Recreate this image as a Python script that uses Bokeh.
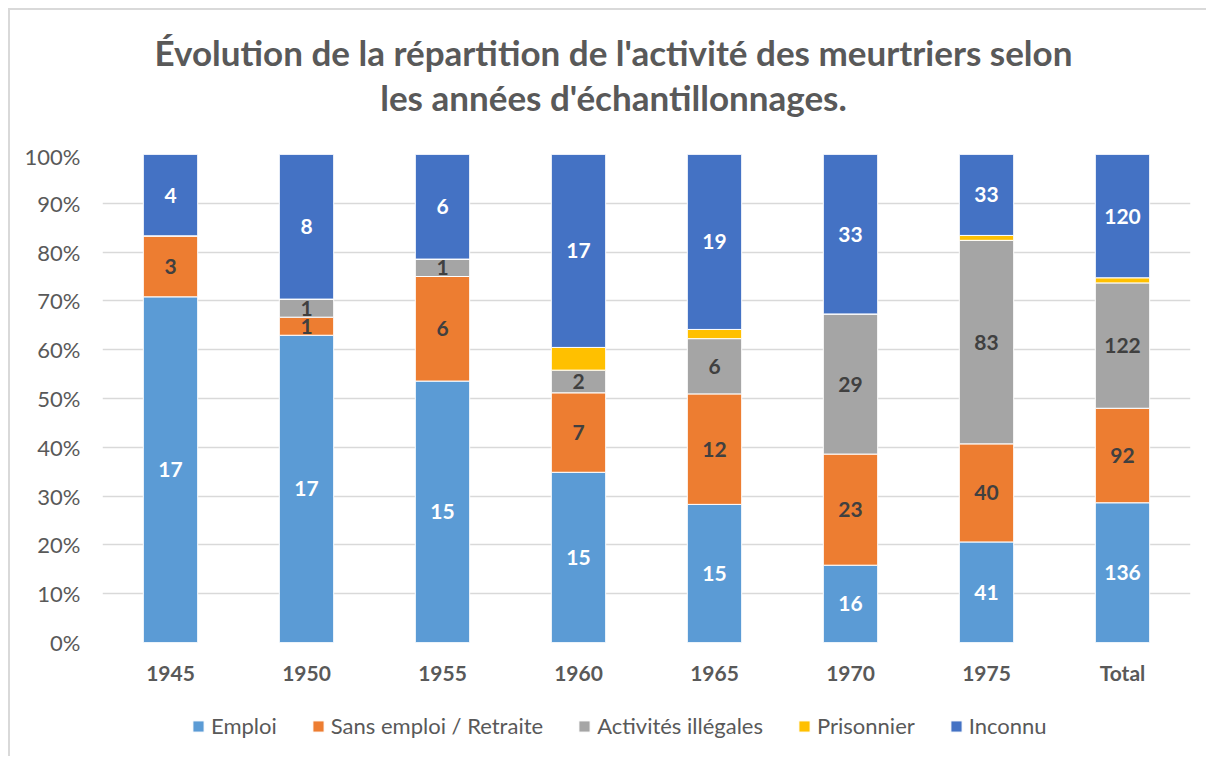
from bokeh.plotting import figure
from bokeh.layouts import column
from bokeh.models import (ColumnDataSource, Legend, LegendItem, Div,
                          NumeralTickFormatter, FixedTicker)
from bokeh.core.properties import value
from bokeh.embed import file_html
from bokeh.resources import INLINE

categories = ["1945", "1950", "1955", "1960", "1965", "1970", "1975", "Total"]
emploi = [17, 17, 15, 15, 15, 16, 41, 136]
sans_emploi = [3, 1, 6, 7, 12, 23, 40, 92]
illegales = [0, 1, 1, 2, 6, 29, 83, 122]
prisonnier = [0, 0, 0, 2, 1, 0, 2, 5]
inconnu = [4, 8, 6, 17, 19, 33, 33, 120]
series_names = ["Emploi", "Sans emploi / Retraite", "Activités illégales", "Prisonnier", "Inconnu"]
y_ticks = [0, 0.1, 0.2, 0.3, 0.4, 0.5, 0.6, 0.7, 0.8, 0.9, 1.0]
title_lines = ["Évolution de la répartition de l'activité des meurtriers selon",
               "les années d'échantillonnages."]

colors = ["#5B9BD5", "#ED7D31", "#A5A5A5", "#FFC000", "#4472C4"]
label_colors = ["#FFFFFF", "#404040", "#404040", None, "#FFFFFF"]
FONT = "Lato"
GREY = "#595959"

series = [emploi, sans_emploi, illegales, prisonnier, inconnu]
totals = [sum(vals) for vals in zip(*series)]
keys = ["s%d" % i for i in range(len(series))]
data = {"cat": categories}
for k, s in zip(keys, series):
    data[k] = [v / t for v, t in zip(s, totals)]
src = ColumnDataSource(data)

# ---------------- main chart ----------------
p = figure(x_range=categories, y_range=(0, 1), width=1196, height=558,
           output_backend="svg", toolbar_location=None,
           min_border_left=92, min_border_right=16, min_border_top=12,
           min_border_bottom=58)
p.outline_line_color = None
p.background_fill_color = "white"
p.border_fill_color = "white"

renderers = p.vbar_stack(keys, x="cat", width=0.4, color=colors,
                         line_color="white", line_width=1, source=src)

# data labels
cum = [0.0] * len(categories)
for i, (k, s) in enumerate(zip(keys, series)):
    fr = data[k]
    mids = [c + f / 2 for c, f in zip(cum, fr)]
    cum = [c + f for c, f in zip(cum, fr)]
    if label_colors[i] is None:
        continue
    xs, ys, ts = [], [], []
    for cat, m, v in zip(categories, mids, s):
        if v > 0:
            xs.append(cat); ys.append(m); ts.append(str(v))
    p.text(x=xs, y=ys, text=ts, text_align="center", text_baseline="middle",
           text_font=value(FONT), text_font_style="bold", text_font_size="21px",
           text_color=label_colors[i])

p.yaxis.ticker = FixedTicker(ticks=y_ticks)
p.yaxis.formatter = NumeralTickFormatter(format="0%")
for ax in (p.xaxis[0], p.yaxis[0]):
    ax.axis_line_color = None
    ax.major_tick_line_color = None
    ax.minor_tick_line_color = None
    ax.major_tick_out = 0
    ax.major_tick_in = 0
    ax.major_label_text_font = FONT
    ax.major_label_text_color = GREY
p.yaxis.major_label_text_font_size = "22px"
p.xaxis.major_label_text_font_size = "21px"
p.yaxis.major_label_standoff = 22
p.xaxis.major_label_standoff = 17
p.xaxis.major_label_text_font_style = "bold"
p.xgrid.grid_line_color = None
p.ygrid.grid_line_color = "#D9D9D9"
p.ygrid.grid_line_width = 1.5

# ---------------- legend strip ----------------
lg = figure(width=1196, height=56, x_range=(0, 1), y_range=(0, 1),
            output_backend="svg", toolbar_location=None,
            x_axis_location=None, y_axis_location=None,
            min_border_left=92, min_border_right=16, min_border_top=0,
            min_border_bottom=0)
lg.outline_line_color = None
lg.grid.visible = False
lg.background_fill_color = "white"
lg.border_fill_color = "white"
# zero-size swatch renderers: they draw nothing and only feed the legend
lg_renderers = [lg.vbar(x=[0.5], top=[0], bottom=[0], width=0, color=c,
                        line_color="white", line_width=1)
                for c in colors]
legend = Legend(items=[LegendItem(label=n, renderers=[r]) for n, r in zip(series_names, lg_renderers)],
                orientation="horizontal", location=(89, 17),
                glyph_width=14, glyph_height=14, label_standoff=6, spacing=34,
                padding=0, margin=0, border_line_color=None, background_fill_alpha=0,
                label_text_font=FONT, label_text_font_size="22px",
                label_text_color=GREY, label_height=24)
lg.add_layout(legend)

# ---------------- title ----------------
title_html = ("<div style=\"box-sizing:border-box;width:1196px;padding-left:11px;padding-top:20px;"
              "text-align:center;font-family:Lato;font-weight:bold;font-size:35px;"
              "line-height:45px;color:%s;\">%s<br>%s</div>" % (GREY, title_lines[0], title_lines[1]))
title = Div(text=title_html, width=1196, height=132, margin=0)

layout = column(title, p, lg, spacing=0,
                styles={"margin-left": "8px", "margin-top": "8px",
                        "border-left": "2px solid #D9D9D9",
                        "border-top": "2px solid #D9D9D9",
                        "background-color": "white"})

open("out.html", "w").write(file_html(layout, INLINE))
